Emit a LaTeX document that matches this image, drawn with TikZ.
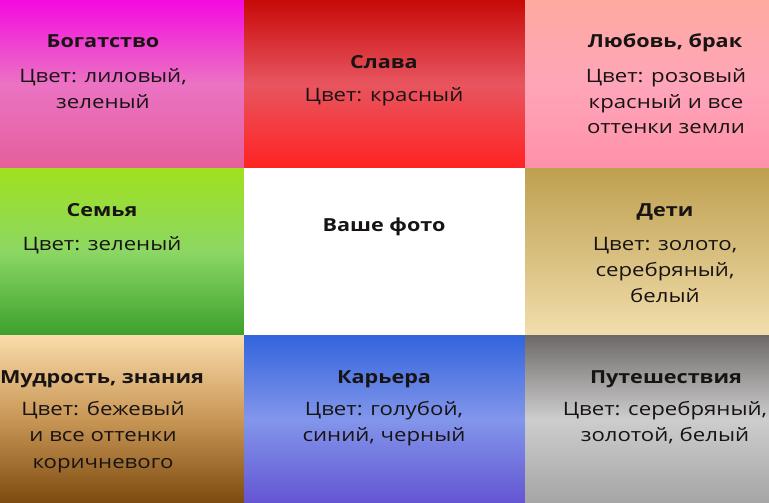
\documentclass[tikz,border=0pt]{standalone}
\usepackage{fontspec}
\setmainfont{Open Sans}[FakeStretch=1.2]
\definecolor{tlA}{RGB}{245,10,225}\definecolor{tlB}{RGB}{235,115,195}\definecolor{tlC}{RGB}{228,95,155}
\definecolor{tmA}{RGB}{200,10,10}\definecolor{tmB}{RGB}{232,85,95}\definecolor{tmC}{RGB}{255,35,35}
\definecolor{trA}{RGB}{255,170,160}\definecolor{trB}{RGB}{255,165,185}\definecolor{trC}{RGB}{255,145,170}
\definecolor{mlA}{RGB}{160,225,30}\definecolor{mlB}{RGB}{140,215,100}\definecolor{mlC}{RGB}{60,160,45}
\definecolor{mrA}{RGB}{190,160,80}\definecolor{mrB}{RGB}{215,190,125}\definecolor{mrC}{RGB}{242,222,172}
\definecolor{blA}{RGB}{250,220,170}\definecolor{blB}{RGB}{200,150,85}\definecolor{blC}{RGB}{125,75,15}
\definecolor{bmA}{RGB}{50,100,220}\definecolor{bmB}{RGB}{130,150,235}\definecolor{bmC}{RGB}{100,85,210}
\definecolor{brA}{RGB}{110,105,105}\definecolor{brB}{RGB}{205,205,205}\definecolor{brC}{RGB}{165,165,165}
\definecolor{txt}{RGB}{25,20,20}
\tikzset{
  cell/.style={rectangle,inner sep=0pt,outer sep=0pt,anchor=north west},
  grad/.style n args={3}{top color=#1,bottom color=#3,middle color=#2},
  ttl/.style={anchor=base,inner sep=0pt,text=txt,font=\fontsize{18}{20}\selectfont\bfseries},
  body/.style={anchor=base,inner sep=0pt,text=txt,font=\fontsize{18.5}{26}\selectfont},
}
\begin{document}
\begin{tikzpicture}[x=1pt,y=-1pt]
\useasboundingbox (0,0) rectangle (769,503);
\node[cell,minimum width=244pt,minimum height=168pt,grad={tlA}{tlB}{tlC}] (c11) at (0,0) {};
\node[cell,minimum width=281pt,minimum height=168pt,grad={tmA}{tmB}{tmC}] (c12) at (244,0) {};
\node[cell,minimum width=244pt,minimum height=168pt,grad={trA}{trB}{trC}] (c13) at (525,0) {};
\node[cell,minimum width=244pt,minimum height=167pt,grad={mlA}{mlB}{mlC}] (c21) at (0,168) {};
\node[cell,minimum width=281pt,minimum height=167pt,fill=white] (c22) at (244,168) {};
\node[cell,minimum width=244pt,minimum height=167pt,grad={mrA}{mrB}{mrC}] (c23) at (525,168) {};
\node[cell,minimum width=244pt,minimum height=168pt,grad={blA}{blB}{blC}] (c31) at (0,335) {};
\node[cell,minimum width=281pt,minimum height=168pt,grad={bmA}{bmB}{bmC}] (c32) at (244,335) {};
\node[cell,minimum width=244pt,minimum height=168pt,grad={brA}{brB}{brC}] (c33) at (525,335) {};
% texts
\node[ttl] (t11) at (103,48) {Богатство};
\node[body] (b11a) at (103,83) {Цвет: лиловый,};
\node[body] (b11b) at (103,108) {зеленый};
\node[ttl] (t12) at (384,69) {Слава};
\node[body] (b12a) at (384,102) {Цвет: красный};
\node[ttl] (t13) at (665,48) {Любовь, брак};
\node[body] (b13a) at (666,83) {Цвет: розовый};
\node[body] (b13b) at (666,108) {красный и все};
\node[body] (b13c) at (666,133) {оттенки земли};
\node[ttl] (t21) at (102,216) {Семья};
\node[body] (b21a) at (102,250) {Цвет: зеленый};
\node[ttl] (t22) at (384,231) {Ваше фото};
\node[ttl] (t23) at (665,216) {Дети};
\node[body] (b23a) at (665,250) {Цвет: золото,};
\node[body] (b23b) at (665,276) {серебряный,};
\node[body] (b23c) at (665,302) {белый};
\node[ttl] (t31) at (102,383) {Мудрость, знания};
\node[body] (b31a) at (103,415) {Цвет: бежевый};
\node[body] (b31b) at (103,441) {и все оттенки};
\node[body] (b31c) at (103,468) {коричневого};
\node[ttl] (t32) at (384,383) {Карьера};
\node[body] (b32a) at (384,415) {Цвет: голубой,};
\node[body] (b32b) at (384,441) {синий, черный};
\node[ttl] (t33) at (666,383) {Путешествия};
\node[body] (b33a) at (665,415) {Цвет: серебряный,};
\node[body] (b33b) at (665,441) {золотой, белый};
\end{tikzpicture}
\end{document}
